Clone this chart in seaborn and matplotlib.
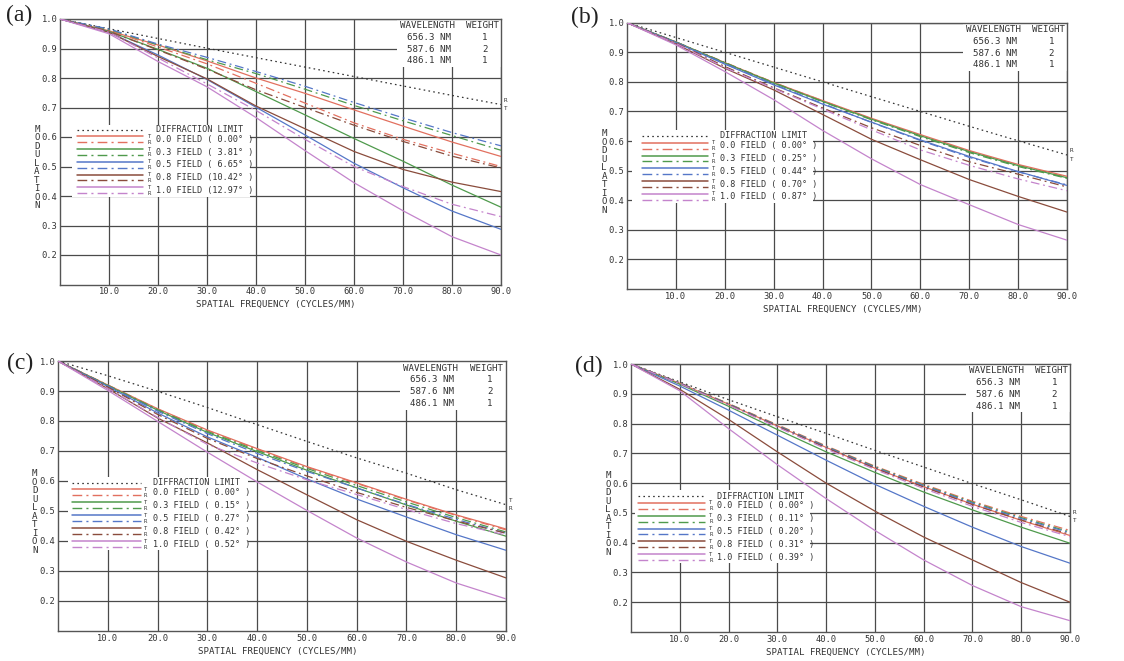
import numpy as np
import pandas as pd
import matplotlib
matplotlib.use("Agg")
import matplotlib.pyplot as plt
import matplotlib.transforms as mtransforms
from matplotlib.patches import Rectangle
import seaborn as sns

sns.set_style("white")
plt.rcParams["font.family"] = ["DejaVu Sans Mono"]

# ---------------- data ----------------
freq = [0, 10, 20, 30, 40, 50, 60, 70, 80, 90]
field_names = ["0.0 FIELD", "0.3 FIELD", "0.5 FIELD", "0.8 FIELD", "1.0 FIELD"]
x_tick_labels = ["10.0", "20.0", "30.0", "40.0", "50.0", "60.0", "70.0", "80.0", "90.0"]
y_tick_labels = ["0.2", "0.3", "0.4", "0.5", "0.6", "0.7", "0.8", "0.9", "1.0"]
wavelengths = ["656.3 NM", "587.6 NM", "486.1 NM"]
weights = ["1", "2", "1"]

a_angles = ["0.00", "3.81", "6.65", "10.42", "12.97"]
b_angles = ["0.00", "0.25", "0.44", "0.70", "0.87"]
c_angles = ["0.00", "0.15", "0.27", "0.42", "0.52"]
d_angles = ["0.00", "0.11", "0.20", "0.31", "0.39"]

a_diff = [1.0, 0.967, 0.934, 0.901, 0.869, 0.837, 0.805, 0.773, 0.741, 0.710]
a_tan = [
    [1.0, 0.960, 0.912, 0.858, 0.800, 0.748, 0.692, 0.637, 0.583, 0.534],
    [1.0, 0.958, 0.897, 0.833, 0.754, 0.675, 0.595, 0.518, 0.437, 0.362],
    [1.0, 0.955, 0.878, 0.795, 0.701, 0.607, 0.511, 0.428, 0.349, 0.287],
    [1.0, 0.955, 0.873, 0.797, 0.705, 0.628, 0.551, 0.490, 0.447, 0.415],
    [1.0, 0.950, 0.856, 0.770, 0.666, 0.554, 0.445, 0.350, 0.262, 0.200],
]
a_sag = [
    [1.0, 0.962, 0.905, 0.848, 0.782, 0.715, 0.648, 0.592, 0.545, 0.500],
    [1.0, 0.965, 0.912, 0.862, 0.815, 0.762, 0.707, 0.655, 0.605, 0.555],
    [1.0, 0.966, 0.915, 0.870, 0.822, 0.772, 0.717, 0.665, 0.615, 0.570],
    [1.0, 0.958, 0.895, 0.830, 0.760, 0.700, 0.640, 0.585, 0.535, 0.495],
    [1.0, 0.955, 0.868, 0.780, 0.690, 0.592, 0.500, 0.432, 0.372, 0.330],
]

b_diff = [1.0, 0.950, 0.900, 0.850, 0.800, 0.750, 0.700, 0.650, 0.601, 0.553]
b_tan = [
    [1.0, 0.935, 0.865, 0.798, 0.737, 0.677, 0.622, 0.568, 0.521, 0.481],
    [1.0, 0.935, 0.864, 0.796, 0.734, 0.674, 0.618, 0.564, 0.517, 0.476],
    [1.0, 0.933, 0.860, 0.790, 0.725, 0.664, 0.604, 0.548, 0.497, 0.450],
    [1.0, 0.928, 0.846, 0.773, 0.690, 0.606, 0.537, 0.470, 0.413, 0.360],
    [1.0, 0.925, 0.835, 0.740, 0.636, 0.540, 0.453, 0.385, 0.318, 0.265],
]
b_sag = [
    [1.0, 0.935, 0.866, 0.798, 0.736, 0.675, 0.618, 0.565, 0.518, 0.478],
    [1.0, 0.935, 0.865, 0.797, 0.733, 0.672, 0.615, 0.561, 0.514, 0.474],
    [1.0, 0.934, 0.862, 0.792, 0.727, 0.663, 0.602, 0.545, 0.496, 0.452],
    [1.0, 0.932, 0.852, 0.780, 0.712, 0.645, 0.585, 0.530, 0.488, 0.445],
    [1.0, 0.930, 0.848, 0.778, 0.708, 0.638, 0.570, 0.518, 0.472, 0.432],
]

c_diff = [1.0, 0.951, 0.899, 0.845, 0.788, 0.732, 0.677, 0.626, 0.571, 0.521]
c_tan = [
    [1.0, 0.920, 0.841, 0.770, 0.708, 0.648, 0.594, 0.539, 0.487, 0.440],
    [1.0, 0.918, 0.836, 0.762, 0.698, 0.636, 0.577, 0.520, 0.466, 0.416],
    [1.0, 0.915, 0.827, 0.747, 0.679, 0.607, 0.540, 0.480, 0.421, 0.369],
    [1.0, 0.908, 0.810, 0.727, 0.638, 0.554, 0.471, 0.399, 0.336, 0.277],
    [1.0, 0.902, 0.799, 0.696, 0.597, 0.502, 0.410, 0.330, 0.260, 0.207],
]
c_sag = [
    [1.0, 0.920, 0.840, 0.768, 0.706, 0.646, 0.592, 0.537, 0.485, 0.437],
    [1.0, 0.919, 0.838, 0.765, 0.702, 0.642, 0.585, 0.530, 0.478, 0.430],
    [1.0, 0.917, 0.833, 0.758, 0.692, 0.632, 0.577, 0.522, 0.472, 0.426],
    [1.0, 0.913, 0.822, 0.742, 0.675, 0.617, 0.562, 0.512, 0.467, 0.426],
    [1.0, 0.908, 0.812, 0.722, 0.660, 0.604, 0.555, 0.505, 0.458, 0.420],
]

d_diff = [1.0, 0.940, 0.880, 0.823, 0.767, 0.710, 0.654, 0.598, 0.544, 0.488]
d_tan = [
    [1.0, 0.935, 0.865, 0.792, 0.720, 0.650, 0.588, 0.529, 0.475, 0.424],
    [1.0, 0.932, 0.858, 0.780, 0.705, 0.636, 0.570, 0.510, 0.452, 0.398],
    [1.0, 0.926, 0.845, 0.761, 0.677, 0.596, 0.522, 0.452, 0.387, 0.331],
    [1.0, 0.915, 0.814, 0.705, 0.600, 0.506, 0.419, 0.342, 0.266, 0.200],
    [1.0, 0.910, 0.783, 0.662, 0.548, 0.441, 0.342, 0.256, 0.185, 0.138],
]
d_sag = [
    [1.0, 0.937, 0.867, 0.796, 0.725, 0.657, 0.596, 0.539, 0.488, 0.441],
    [1.0, 0.936, 0.866, 0.794, 0.723, 0.655, 0.593, 0.536, 0.484, 0.436],
    [1.0, 0.936, 0.865, 0.793, 0.722, 0.653, 0.591, 0.533, 0.481, 0.433],
    [1.0, 0.935, 0.864, 0.791, 0.719, 0.650, 0.587, 0.528, 0.476, 0.428],
    [1.0, 0.934, 0.862, 0.788, 0.715, 0.646, 0.582, 0.522, 0.468, 0.420],
]

# ---------------- style ----------------
colors = ["#e2705f", "#4f9a4c", "#5577c8", "#8a4c3c", "#c484cc"]
dashdot = (0, (7, 3, 1.5, 3))
dotted = (0, (1.3, 2.6))
grid_col = "#4a4a4a"
W, H = 1124, 661

fig = plt.figure(figsize=(11.24, 6.61), dpi=100)

panels = [
    dict(tag="(a)", diff=a_diff, tan=a_tan, sag=a_sag, ang=a_angles,
         px=(60, 501, 19, 284.5), lab=(6, 15),
         box=(0.027, 0.330, 0.430, 0.601), lx=(0.039, 0.188), trx=0.202, tx=0.218,
         dy=0.582, r0=0.547, rt="RT"),
    dict(tag="(b)", diff=b_diff, tan=b_tan, sag=b_sag, ang=b_angles,
         px=(627, 1067, 22.7, 289), lab=(571, 17),
         box=(0.011, 0.323, 0.423, 0.597), lx=(0.034, 0.184), trx=0.196, tx=0.211,
         dy=0.575, r0=0.538, rt="RT"),
    dict(tag="(c)", diff=c_diff, tan=c_tan, sag=c_sag, ang=c_angles,
         px=(58, 506, 361, 631), lab=(7, 363),
         box=(0.022, 0.300, 0.424, 0.571), lx=(0.032, 0.186), trx=0.195, tx=0.213,
         dy=0.549, r0=0.514, rt="TR"),
    dict(tag="(d)", diff=d_diff, tan=d_tan, sag=d_sag, ang=d_angles,
         px=(631, 1070, 364, 632), lab=(575, 366),
         box=(0.009, 0.259, 0.408, 0.530), lx=(0.017, 0.169), trx=0.182, tx=0.196,
         dy=0.507, r0=0.471, rt="RT"),
]

for p in panels:
    x0, x1, ytop, ybot = p["px"]
    ax = fig.add_axes([x0 / W, 1 - ybot / H, (x1 - x0) / W, (ybot - ytop) / H])
    ax.set_xlim(0, 90)
    ax.set_ylim(0.1, 1.0)

    # curves
    sns.lineplot(x=freq, y=p["diff"], ax=ax, color="#333333", linewidth=0.9,
                 linestyle=dotted, legend=False, zorder=3)
    for i in range(5):
        sns.lineplot(x=freq, y=p["sag"][i], ax=ax, color=colors[i], linewidth=0.9,
                     linestyle=dashdot, legend=False, zorder=3)
        sns.lineplot(x=freq, y=p["tan"][i], ax=ax, color=colors[i], linewidth=0.9,
                     legend=False, zorder=3)

    # axes / grid
    ax.set_xticks(np.arange(10, 91, 10))
    ax.set_xticklabels(x_tick_labels, fontsize=6.3, color="#333333")
    ax.set_yticks(np.arange(0.2, 1.01, 0.1))
    ax.set_yticklabels(y_tick_labels, fontsize=6.3, color="#333333")
    ax.tick_params(length=0, pad=2)
    ax.grid(True, color=grid_col, linewidth=0.9)
    ax.set_axisbelow(True)
    for s in ax.spines.values():
        s.set_color("#555555")
        s.set_linewidth(1.0)
    ax.set_xlabel("")
    ax.set_ylabel("")
    ax.text(0.49, -0.075, "SPATIAL FREQUENCY (CYCLES/MM)", transform=ax.transAxes,
            ha="center", va="center", fontsize=6.6, color="#333333")
    ax.text(-0.052, 0.44, "\n".join("MODULATION"), transform=ax.transAxes,
            ha="center", va="center", fontsize=6.6, color="#333333", linespacing=0.93)

    # R/T labels at right end of the diffraction curve
    trans = mtransforms.blended_transform_factory(ax.transAxes, ax.transData)
    yend = p["diff"][-1]
    ax.text(1.006, yend + 0.014, p["rt"][0], transform=trans, fontsize=4.3,
            ha="left", va="center", color="#333333", clip_on=False)
    ax.text(1.006, yend - 0.014, p["rt"][1], transform=trans, fontsize=4.3,
            ha="left", va="center", color="#333333", clip_on=False)

    # wavelength box
    ax.add_patch(Rectangle((0.764, 0.82), 0.236, 0.176, transform=ax.transAxes,
                           facecolor="white", edgecolor="none", zorder=2))
    ax.text(0.770, 0.974, "WAVELENGTH", transform=ax.transAxes, fontsize=6.6,
            ha="left", va="center", color="#333333", zorder=4)
    ax.text(0.920, 0.974, "WEIGHT", transform=ax.transAxes, fontsize=6.6,
            ha="left", va="center", color="#333333", zorder=4)
    for k, (wl, wt) in enumerate(zip(wavelengths, weights)):
        yy = 0.930 - 0.044 * k
        ax.text(0.786, yy, wl, transform=ax.transAxes, fontsize=6.6,
                ha="left", va="center", color="#333333", zorder=4)
        ax.text(0.964, yy, wt, transform=ax.transAxes, fontsize=6.6,
                ha="center", va="center", color="#333333", zorder=4)

    # legend box
    bx0, by0, bx1, by1 = p["box"]
    ax.add_patch(Rectangle((bx0, by0), bx1 - bx0, by1 - by0, transform=ax.transAxes,
                           facecolor="white", edgecolor="none", zorder=2))
    lx0, lx1 = p["lx"]
    ax.plot([lx0, lx1], [p["dy"], p["dy"]], transform=ax.transAxes, color="#333333",
            linewidth=0.9, linestyle=dotted, zorder=4)
    ax.text(p["tx"], p["dy"], "DIFFRACTION LIMIT", transform=ax.transAxes,
            fontsize=6.1, ha="left", va="center", color="#333333", zorder=4)
    for i in range(5):
        ry = p["r0"] - 0.048 * i
        ax.plot([lx0, lx1], [ry + 0.011, ry + 0.011], transform=ax.transAxes,
                color=colors[i], linewidth=1.1, zorder=4)
        ax.plot([lx0, lx1], [ry - 0.011, ry - 0.011], transform=ax.transAxes,
                color=colors[i], linewidth=1.0, linestyle=dashdot, zorder=4)
        ax.text(p["trx"], ry + 0.011, "T", transform=ax.transAxes, fontsize=4.0,
                ha="center", va="center", color="#333333", zorder=4)
        ax.text(p["trx"], ry - 0.011, "R", transform=ax.transAxes, fontsize=4.0,
                ha="center", va="center", color="#333333", zorder=4)
        ang = p["ang"][i]
        label = f"{field_names[i]} ({ang:>5s}° )"
        ax.text(p["tx"], ry, label, transform=ax.transAxes, fontsize=6.1,
                ha="left", va="center", color="#333333", zorder=4)

    fig.text(p["lab"][0] / W, 1 - p["lab"][1] / H, p["tag"], fontsize=17,
             family="Liberation Serif", ha="left", va="center", color="#222222")

fig.savefig("out.png", dpi=100, facecolor="white")
